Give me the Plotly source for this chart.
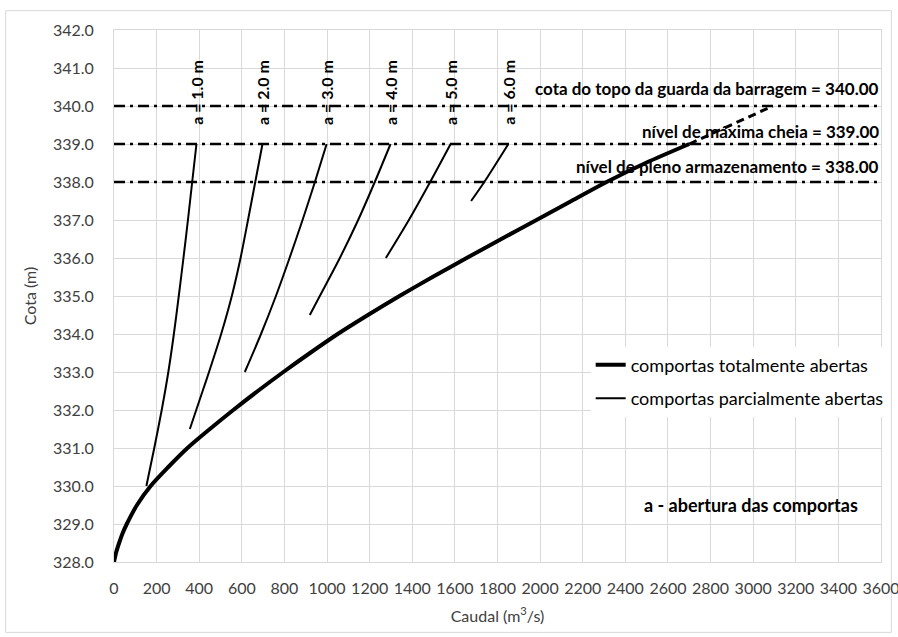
import plotly.graph_objects as go

# Curva de vazão com comportas totalmente abertas (caudal em m3/s, cota em m)
cota_total = [328.0, 328.25, 328.5, 328.75, 329.0, 329.5, 330.0, 330.5, 331.0, 331.5,
              332.0, 332.5, 333.0, 333.5, 334.0, 334.5, 335.0, 335.5, 336.0, 336.5,
              337.0, 337.5, 338.0, 338.5, 339.0]
caudal_total = [0, 10, 24, 40, 60, 108, 172, 255, 345, 450,
                560, 675, 795, 920, 1050, 1192, 1340, 1495, 1655, 1818,
                1983, 2147, 2312, 2495, 2700]

# Prolongamento tracejado acima do nível de máxima cheia
cota_ext = [339.0, 339.53, 340.0]
caudal_ext = [2700, 2905, 3092]

# Curvas com comportas parcialmente abertas, por abertura a
aberturas = ["a = 1.0 m", "a = 2.0 m", "a = 3.0 m", "a = 4.0 m", "a = 5.0 m", "a = 6.0 m"]
cota_parcial = [
    [330, 331, 332, 333, 334, 335, 336, 337, 338, 339],
    [331.5, 332, 332.5, 333, 334, 335, 336, 337, 338, 339],
    [333, 334, 335, 336, 337, 338, 339],
    [334.5, 335, 336, 337, 338, 339],
    [336, 337, 338, 339],
    [337.5, 338, 339],
]
caudal_parcial = [
    [152, 189, 224, 255, 281, 304, 326, 347, 367, 387],
    [356, 386, 416, 446, 503, 553, 594, 629, 663, 697],
    [614, 690, 760, 824, 885, 943, 998],
    [919, 966, 1060, 1146, 1224, 1298],
    [1276, 1384, 1484, 1580],
    [1676, 1738, 1851],
]

# Níveis característicos da albufeira
niveis = [340.0, 339.0, 338.0]
niveis_txt = ["cota do topo da guarda da barragem = 340.00",
              "nível de máxima cheia = 339.00",
              "nível de pleno armazenamento = 338.00"]
niveis_txt_y = [340.46, 339.33, 338.41]

x_ticks = list(range(0, 3601, 200))
y_ticks = [328 + i for i in range(15)]

FONT = "Lato"
fig = go.Figure()

fig.add_trace(go.Scatter(
    x=caudal_total, y=cota_total, mode="lines",
    line=dict(color="black", width=4, shape="spline", smoothing=0.8),
    name="comportas totalmente abertas", legendgroup="total"))

for k, (q, z) in enumerate(zip(caudal_parcial, cota_parcial)):
    fig.add_trace(go.Scatter(
        x=q, y=z, mode="lines",
        line=dict(color="black", width=2, shape="spline", smoothing=0.8),
        name="comportas parcialmente abertas", legendgroup="parcial",
        showlegend=(k == 0)))

fig.add_trace(go.Scatter(
    x=caudal_ext, y=cota_ext, mode="lines",
    line=dict(color="black", width=3, dash="8px,5px"),
    showlegend=False, hoverinfo="skip"))

for z in niveis:
    fig.add_trace(go.Scatter(
        x=[x_ticks[0], x_ticks[-1]], y=[z, z], mode="lines",
        line=dict(color="black", width=2.5, dash="11px,5px,3px,5px"),
        showlegend=False, hoverinfo="skip"))

annotations = []
for txt, yl in zip(niveis_txt, niveis_txt_y):
    annotations.append(dict(
        x=1.0, xref="paper", y=yl, yref="y", text=f"<b>{txt}</b>",
        showarrow=False, xanchor="right", yanchor="middle",
        font=dict(family=FONT, size=17, color="black")))

for txt, q, z in zip(aberturas, caudal_parcial, cota_parcial):
    annotations.append(dict(
        x=q[-1], y=339.45, xref="x", yref="y", text=f"<b>{txt}</b>",
        textangle=-90, showarrow=False, xanchor="center", yanchor="bottom",
        font=dict(family=FONT, size=16, color="black")))

annotations.append(dict(
    x=0.973, y=0.1067, xref="paper", yref="paper",
    text="<b>a - abertura das comportas</b>", showarrow=False,
    xanchor="right", yanchor="middle",
    font=dict(family=FONT, size=18, color="black")))

fig.update_layout(
    width=898, height=637,
    margin=dict(l=114, r=17, t=30, b=75, autoexpand=False),
    paper_bgcolor="white", plot_bgcolor="white",
    font=dict(family=FONT, size=16, color="#404040"),
    annotations=annotations,
    shapes=[dict(type="rect", xref="paper", yref="paper",
                 x0=-0.1413, x1=1.0135, y0=-0.1323, y1=1.0363,
                 line=dict(color="#d9d9d9", width=1), layer="below")],
    legend=dict(x=0.6215, y=0.405, xanchor="left", yanchor="top",
                bgcolor="white", borderwidth=0, tracegroupgap=7,
                font=dict(family=FONT, size=18, color="black"),
                traceorder="grouped"),
    showlegend=True,
)

fig.update_xaxes(
    range=[0, 3600], tickvals=x_ticks, ticktext=[str(v) for v in x_ticks],
    showgrid=True, gridcolor="#d9d9d9", gridwidth=1,
    showline=True, linecolor="#d9d9d9", mirror=True, zeroline=False,
    ticks="", ticklabelstandoff=12, ticklabeloverflow="allow",
    title=dict(text="Caudal (m<sup>3</sup>/s)", standoff=14,
               font=dict(family=FONT, size=16, color="#404040")))

fig.update_yaxes(
    range=[328, 342], tickvals=y_ticks, ticktext=[f"{v:.1f}" for v in y_ticks],
    showgrid=True, gridcolor="#d9d9d9", gridwidth=1,
    showline=True, linecolor="#d9d9d9", mirror=True, zeroline=False,
    ticks="", ticklabelstandoff=16,
    title=dict(text="Cota (m)", standoff=12,
               font=dict(family=FONT, size=16, color="#404040")))

fig.write_html("out.html")
